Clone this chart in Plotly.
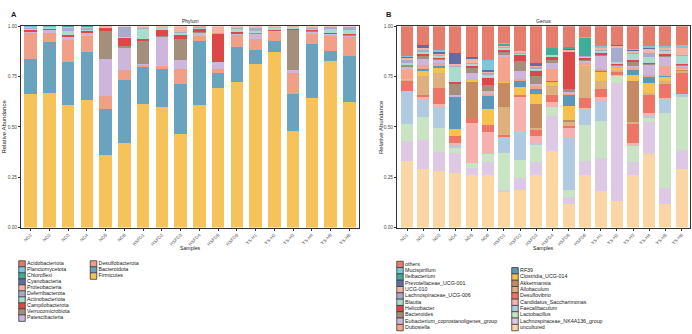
import plotly.graph_objects as go

W, H = 692, 334
FONT = "Liberation Sans, Arial, sans-serif"

samples = ["ND1", "ND2", "ND3", "ND4", "ND5", "ND6",
           "HSFD1", "HSFD2", "HSFD3", "HSFD4", "HSFD5", "HSFD6",
           "YS-H1", "YS-H2", "YS-H3", "YS-H4", "YS-H5", "YS-H6"]
y_ticks = [0, 0.25, 0.5, 0.75, 1.0]
y_ticktext = ["0.00", "0.25", "0.50", "0.75", "1.00"]

# ---------------- Phylum (panel A) ----------------
acidobacteriota = [.000, .000, .000, .000, .000, .000, .000, .000, .000, .000, .000, .000, .000, .000, .000, .000, .000, .000]
planctomycetota = [.001, .001, .000, .000, .000, .000, .000, .000, .000, .000, .000, .000, .000, .000, .000, .000, .000, .000]
chloroflexi = [.001, .001, .001, .001, .000, .000, .000, .000, .000, .000, .000, .000, .000, .000, .000, .000, .000, .000]
cyanobacteria = [.001, .001, .001, .001, .000, .000, .000, .000, .000, .000, .000, .000, .000, .000, .000, .000, .000, .000]
proteobacteria = [.004, .003, .003, .006, .002, .003, .008, .006, .027, .004, .034, .010, .010, .005, .002, .008, .002, .004]
deferribacterota = [.004, .002, .021, .012, .001, .052, .002, .002, .005, .002, .001, .002, .014, .003, .001, .004, .008, .016]
actinobacteriota = [.010, .003, .020, .004, .002, .002, .055, .010, .012, .004, .002, .018, .006, .012, .010, .004, .024, .020]
campilobacterota = [.004, .006, .005, .006, .018, .043, .008, .030, .018, .020, .140, .006, .004, .003, .002, .010, .003, .004]
verrucomicrobiota = [.002, .001, .002, .002, .139, .009, .115, .002, .107, .002, .000, .002, .002, .001, .203, .002, .002, .002]
patescibacteria = [.004, .018, .015, .017, .187, .110, .002, .150, .042, .017, .034, .003, .029, .004, .017, .008, .010, .004]
desulfobacterota = [.133, .044, .111, .081, .062, .046, .011, .014, .076, .027, .020, .063, .052, .048, .101, .053, .076, .098]
bacteroidota = [.172, .250, .214, .239, .229, .315, .184, .189, .247, .314, .076, .175, .070, .054, .185, .270, .049, .229]
firmicutes = [.664, .670, .607, .631, .360, .420, .615, .597, .466, .610, .693, .721, .813, .870, .479, .641, .826, .623]

phylum_names = ["Acidobacteriota", "Planctomycetota", "Chloroflexi", "Cyanobacteria",
                "Proteobacteria", "Deferribacterota", "Actinobacteriota", "Campilobacterota",
                "Verrucomicrobiota", "Patescibacteria", "Desulfobacterota", "Bacteroidota",
                "Firmicutes"]
phylum_colors = ["#E27A6B", "#7FC6DA", "#3EAE99", "#5F6FA5", "#F5B4A2", "#A9ABCC",
                 "#A9DCCF", "#DC4747", "#A38F7B", "#CDB6DC", "#F0A089", "#6AA3BE",
                 "#F6C35B"]
phylum_values = [acidobacteriota, planctomycetota, chloroflexi, cyanobacteria,
                 proteobacteria, deferribacterota, actinobacteriota, campilobacterota,
                 verrucomicrobiota, patescibacteria, desulfobacterota, bacteroidota,
                 firmicutes]

# ---------------- Genus (panel B) ----------------
others = [.150, .096, .118, .132, .152, .166, .084, .125, .182, .108, .102, .055, .100, .094, .112, .097, .100, .096]
mucispirillum = [.002, .000, .012, .000, .000, .054, .003, .000, .000, .000, .000, .002, .010, .000, .005, .010, .010, .015]
ileibacterium = [.000, .000, .000, .000, .000, .000, .010, .000, .000, .037, .008, .090, .000, .000, .000, .000, .000, .000]
prevotellaceae_ucg001 = [.006, .012, .005, .054, .010, .005, .000, .000, .015, .000, .005, .000, .000, .005, .005, .005, .000, .000]
ucg010 = [.010, .010, .005, .008, .020, .010, .005, .005, .005, .000, .005, .000, .005, .010, .010, .020, .005, .030]
lachnospiraceae_ucg006 = [.015, .012, .010, .005, .005, .010, .005, .005, .012, .000, .000, .005, .010, .070, .005, .020, .005, .005]
blautia = [.012, .010, .005, .080, .010, .010, .010, .006, .008, .005, .005, .005, .010, .010, .030, .030, .020, .040]
helicobacter = [.000, .010, .005, .008, .012, .039, .008, .033, .025, .016, .187, .007, .005, .003, .008, .005, .005, .005]
bacteroides = [.010, .015, .008, .057, .025, .030, .020, .049, .038, .016, .017, .010, .010, .005, .024, .005, .005, .005]
eubacterium = [.015, .030, .015, .005, .035, .015, .005, .040, .010, .032, .005, .010, .065, .005, .010, .050, .048, .005]
dubosiella = [.040, .020, .015, .003, .000, .005, .125, .008, .015, .059, .010, .005, .005, .005, .005, .010, .050, .010]
rf39 = [.000, .005, .008, .158, .000, .065, .000, .033, .026, .003, .050, .000, .010, .000, .028, .030, .005, .000]
clostridia_ucg014 = [.006, .030, .029, .037, .010, .080, .004, .037, .049, .019, .070, .005, .040, .010, .029, .050, .020, .005]
akkermansia = [.000, .000, .000, .000, .179, .000, .121, .000, .120, .000, .010, .000, .000, .000, .206, .000, .000, .005]
allobaculum = [.005, .090, .072, .000, .000, .000, .142, .000, .010, .049, .020, .163, .040, .010, .005, .010, .015, .010]
desulfovibrio = [.049, .012, .078, .033, .024, .037, .005, .011, .032, .031, .008, .050, .040, .015, .096, .090, .070, .105]
candidatus_saccharimonas = [.000, .013, .019, .016, .196, .104, .000, .174, .034, .025, .052, .010, .020, .005, .010, .015, .010, .000]
faecalibaculum = [.165, .085, .101, .007, .000, .005, .085, .138, .005, .000, .257, .073, .100, .000, .005, .010, .065, .016]
lactobacillus = [.085, .117, .119, .029, .027, .038, .179, .090, .087, .046, .036, .181, .186, .033, .080, .020, .370, .264]
lachnospiraceae_nk4a136 = [.099, .143, .094, .098, .033, .065, .013, .057, .065, .173, .034, .067, .163, .588, .065, .160, .081, .094]
uncultured = [.331, .290, .282, .270, .262, .262, .176, .189, .262, .381, .119, .262, .181, .132, .262, .363, .116, .290]

genus_names = ["others", "Mucispirillum", "Ileibacterium", "Prevotellaceae_UCG-001", "UCG-010",
               "Lachnospiraceae_UCG-006", "Blautia", "Helicobacter", "Bacteroides",
               "Eubacterium_coprostanoligenes_group", "Dubosiella", "RF39", "Clostridia_UCG-014",
               "Akkermansia", "Allobaculum", "Desulfovibrio", "Candidatus_Saccharimonas",
               "Faecalibaculum", "Lactobacillus", "Lachnospiraceae_NK4A136_group", "uncultured"]
genus_colors = ["#E67C6E", "#7FC6DA", "#3EAE99", "#5F6FA5", "#F5B4A2", "#A9ABCC", "#A9DCCF",
                "#DC4747", "#A38F7B", "#CDB6DC", "#F4A38D", "#5B97B8", "#F6C14F", "#C68A62",
                "#DEB07E", "#EE7465", "#F6B1B1", "#B0CAE2", "#C8E4C2", "#DDC9E3", "#FAD6A3"]
genus_values = [others, mucispirillum, ileibacterium, prevotellaceae_ucg001, ucg010,
                lachnospiraceae_ucg006, blautia, helicobacter, bacteroides, eubacterium,
                dubosiella, rf39, clostridia_ucg014, akkermansia, allobaculum, desulfovibrio,
                candidatus_saccharimonas, faecalibaculum, lactobacillus,
                lachnospiraceae_nk4a136, uncultured]

fig = go.Figure()

# stacked bars: first legend entry ends on top, so add in reverse order
for name, col, vals in reversed(list(zip(phylum_names, phylum_colors, phylum_values))):
    fig.add_trace(go.Bar(x=samples, y=vals, name=name, marker=dict(color=col, line=dict(width=0)),
                         width=0.67, xaxis="x", yaxis="y", showlegend=False))
for name, col, vals in reversed(list(zip(genus_names, genus_colors, genus_values))):
    fig.add_trace(go.Bar(x=samples, y=vals, name=name, marker=dict(color=col, line=dict(width=0)),
                         width=0.74, xaxis="x2", yaxis="y2", showlegend=False))

# ---- manual legends (pixel coordinate overlay axis) ----
def legend_trace(names, colors, x0, y0, dy, per_col, col_dx, row_offset2=0):
    xs, ys = [], []
    for i, _ in enumerate(names):
        c = 0 if i < per_col else 1
        r = i if c == 0 else i - per_col + row_offset2
        xs.append(x0 + c * col_dx)
        ys.append(y0 + r * dy)
    return go.Scatter(x=xs, y=ys, mode="markers+text", text=names, textposition="middle right",
                      marker=dict(symbol="square", size=6.5, color=colors,
                                  line=dict(color="#3a3a3a", width=0.8)),
                      textfont=dict(size=5.3, color="#1a1a1a", family=FONT),
                      xaxis="x3", yaxis="y3", showlegend=False, cliponaxis=False,
                      hoverinfo="skip")

fig.add_trace(legend_trace(phylum_names, phylum_colors, 22, 266, 6.1, 10, 71.5))
fig.add_trace(legend_trace(genus_names, genus_colors, 400, 266.5, 6.4, 11, 115, row_offset2=1))

axis_common = dict(showline=True, mirror=True, linecolor="#333333", linewidth=1,
                   ticks="outside", ticklen=2, tickwidth=0.8, tickcolor="#333333",
                   showgrid=False, zeroline=False, fixedrange=True)
xfont = dict(size=4.6, color="#4d4d4d", family=FONT)
yfont = dict(size=4.8, color="#4d4d4d", family=FONT)

ydom = [1 - 229 / H, 1 - 24.5 / H]
fig.update_layout(
    width=W, height=H, margin=dict(l=0, r=0, t=0, b=0),
    paper_bgcolor="white", plot_bgcolor="rgba(0,0,0,0)",
    barmode="stack", showlegend=False,
    font=dict(family=FONT),
    xaxis=dict(domain=[21 / W, 359 / W], range=[-0.52, 17.52], tickangle=-45,
               tickfont=xfont, **axis_common),
    yaxis=dict(domain=ydom, range=[0, 1], tickvals=y_ticks, ticktext=y_ticktext,
               tickfont=yfont, **axis_common),
    xaxis2=dict(domain=[397 / W, 690 / W], range=[-0.62, 17.52], tickangle=-45,
                tickfont=xfont, anchor="y2", **axis_common),
    yaxis2=dict(domain=ydom, range=[0, 1], tickvals=y_ticks, ticktext=y_ticktext,
                tickfont=yfont, anchor="x2", **axis_common),
    xaxis3=dict(domain=[0, 1], range=[0, W], visible=False, anchor="y3", fixedrange=True),
    yaxis3=dict(domain=[0, 1], range=[H, 0], visible=False, anchor="x3", fixedrange=True),
)

def ann(text, x, y, size, bold=False, angle=0, color="#1a1a1a"):
    fig.add_annotation(text=f"<b>{text}</b>" if bold else text, x=x / W, y=1 - y / H,
                       xref="paper", yref="paper", showarrow=False, textangle=angle,
                       font=dict(size=size, color=color, family=FONT),
                       xanchor="center", yanchor="middle")

ann("A", 14, 13, 7.5, bold=True)
ann("B", 389, 13, 7.5, bold=True)
ann("Phylum", 190, 19, 5)
ann("Genus", 543.5, 19, 5)
ann("Samples", 190, 250, 5.2)
ann("Samples", 543.5, 250, 5.2)
ann("Relative Abundance", 4.5, 127, 6, angle=-90)
ann("Relative Abundance", 381, 127, 6, angle=-90)

fig.write_html("out.html")
